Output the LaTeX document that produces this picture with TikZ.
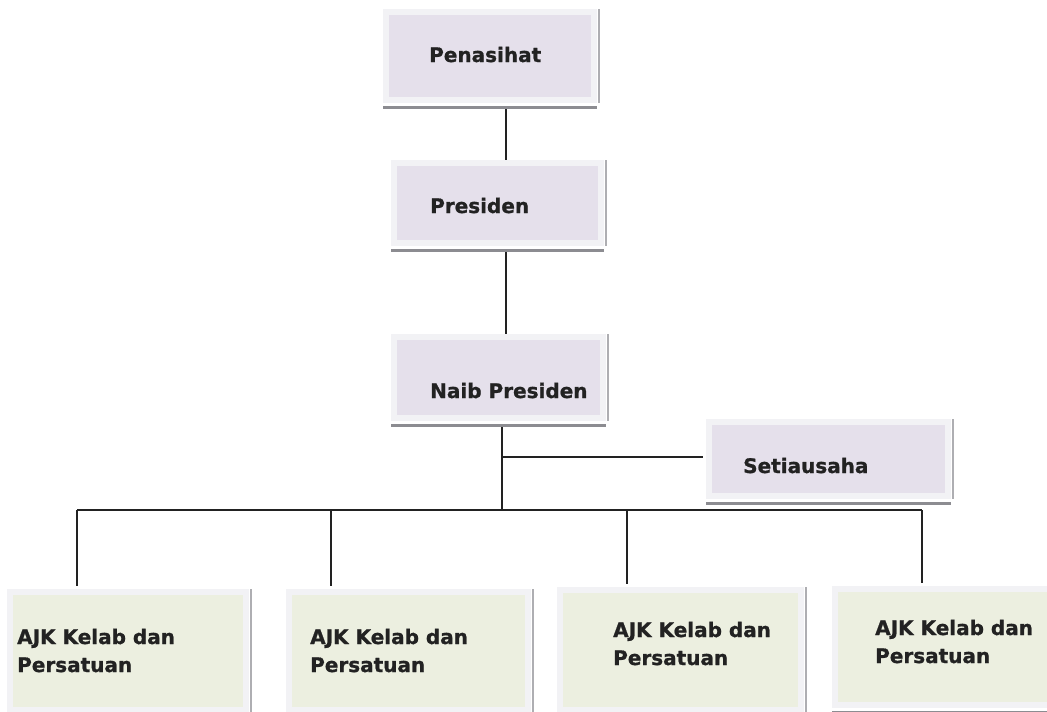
\documentclass[tikz,border=0pt]{standalone}
\usepackage{fontspec}
\setmainfont{DejaVu Sans}[BoldFeatures={FakeBold=1}]
\usepackage{tikz}

\definecolor{lavfill}{HTML}{E5E0EB}
\definecolor{greenfill}{HTML}{ECEFE0}
\definecolor{framegray}{HTML}{F2F2F5}
\definecolor{shadegray}{HTML}{8C8C91}
\definecolor{linedark}{HTML}{222222}

\begin{document}
\begin{tikzpicture}[x=1pt, y=-1pt,
    box/.style={rectangle, draw=framegray, line width=6pt, inner sep=0pt},
    label/.style={anchor=base west, align=left, inner sep=0pt,
        font=\fontsize{20}{28}\selectfont\bfseries, text=linedark},
    conn/.style={draw=linedark, line width=1.6pt}]
    \useasboundingbox (0,0) rectangle (1047,712);
    % Penasihat
    \node[box, fill=lavfill, minimum width=208pt, minimum height=88pt] (pen) at (490,56) {};
    % Presiden
    \node[box, fill=lavfill, minimum width=207pt, minimum height=80pt] (pres) at (497.5,203) {};
    % Naib Presiden
    \node[box, fill=lavfill, minimum width=209pt, minimum height=81pt] (naib) at (498.5,377.5) {};
    % Setiausaha
    \node[box, fill=lavfill, minimum width=239pt, minimum height=74pt] (setia) at (828.5,459) {};
    % AJK
    \node[box, fill=greenfill, minimum width=236pt, minimum height=118pt] (ajka) at (128,651) {};
    \node[box, fill=greenfill, minimum width=239pt, minimum height=118pt] (ajkb) at (408.5,651) {};
    \node[box, fill=greenfill, minimum width=241pt, minimum height=120pt] (ajkc) at (680.5,650) {};
    \node[box, fill=greenfill, minimum width=220pt, minimum height=116pt] (ajkd) at (945,647) {};
    % shadows
    \foreach \n in {pen, pres, naib, setia, ajka, ajkb, ajkc, ajkd} {
        \draw[shadegray, line width=3pt] ([yshift=-4.5pt]\n.south west) -- ([yshift=-4.5pt]\n.south east);
        \draw[shadegray!70, line width=1.2pt] ([xshift=2pt]\n.north east) -- ([xshift=2pt]\n.south east);
    }
    % Texts (two-line labels sit on their last baseline)
    \node[label] (tpen) at (429,62) {Penasihat};
    \node[label] (tpres) at (430,213) {Presiden};
    \node[label] (tnaib) at (430,398) {Naib Presiden};
    \node[label] (tsetia) at (743,473) {Setiausaha};
    \node[label] (tajka) at (17,672) {AJK Kelab dan\\Persatuan};
    \node[label] (tajkb) at (310,672) {AJK Kelab dan\\Persatuan};
    \node[label] (tajkc) at (613,665) {AJK Kelab dan\\Persatuan};
    \node[label] (tajkd) at (875,663) {AJK Kelab dan\\Persatuan};
    % Lines
    \coordinate (hub) at (502,510);
    \coordinate (split) at (502,457);
    \draw[conn] ([xshift=16pt, yshift=-6pt]pen.south) -- ([xshift=8.5pt]pres.north);
    \draw[conn] ([xshift=8.5pt, yshift=-6pt]pres.south) -- ([xshift=7.5pt]naib.north);
    \draw[conn] ([yshift=-6pt]naib.south -| hub) -- (hub);
    \draw[conn] (split) -- ([xshift=-3pt]split -| setia.west);
    \coordinate (da) at (77,510);
    \coordinate (db) at (331,510);
    \coordinate (dc) at (627,510);
    \coordinate (dd) at (922,510);
    \draw[conn] (da) -- (dd);
    \foreach \d/\b in {da/ajka, db/ajkb, dc/ajkc, dd/ajkd}
        \draw[conn] (\d) -- ([yshift=3pt]\d |- \b.north);
\end{tikzpicture}
\end{document}
